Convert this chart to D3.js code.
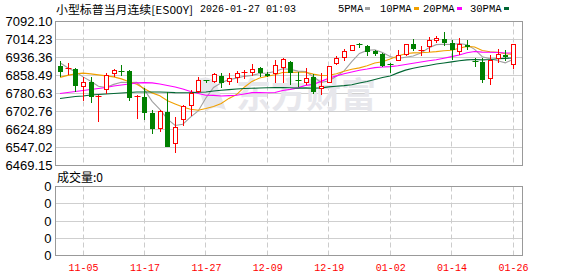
<!DOCTYPE html>
<html>
<head>
<meta charset="utf-8">
<script src="https://cdn.jsdelivr.net/npm/d3@7"></script>
<style>
  body { margin: 0; background: #fff; }
  svg { display: block; }
</style>
</head>
<body>
<svg id="chart" width="578" height="276"></svg>
<script>
// trading days shown (10-31 .. 01-26)
const dates = ["10-31","11-03","11-04","11-05","11-06","11-07","11-10","11-11","11-12","11-13",
  "11-14","11-17","11-18","11-19","11-20","11-21","11-24","11-25","11-26","11-27",
  "11-28","12-01","12-02","12-03","12-04","12-05","12-08","12-09","12-10","12-11",
  "12-12","12-15","12-16","12-17","12-18","12-19","12-22","12-23","12-24","12-26",
  "12-29","12-30","12-31","01-02","01-05","01-06","01-07","01-08","01-09","01-12",
  "01-13","01-14","01-15","01-16","01-19","01-20","01-21","01-22","01-23","01-26"];

const open = [6900.4,6884.7,6886.0,6810.3,6832.0,6765.4,6798.9,6866.9,6877.4,6878.6,
  6767.6,6764.1,6697.0,6629.0,6701.3,6563.7,6665.2,6727.5,6785.9,6835.1,
  6832.0,6856.9,6832.0,6851.2,6865.6,6868.6,6890.4,6865.6,6865.6,6894.8,
  6914.8,6835.1,6827.7,6853.8,6803.3,6827.7,6912.2,6938.3,6965.8,6990.6,
  6987.5,6962.7,6952.7,6906.1,6923.5,6948.3,6996.3,6965.8,6981.9,7009.3,
  7018.0,6999.3,6962.7,6991.9,6920.9,6916.6,6842.5,6929.6,6947.0,6904.8];
const high = [6919.2,6912.2,6890.4,6853.8,6851.2,6774.1,6868.6,6886.0,6904.8,6883.0,
  6774.1,6803.3,6708.7,6708.7,6788.5,6676.9,6730.5,6795.9,6851.2,6839.4,
  6868.6,6871.2,6868.6,6878.6,6883.0,6909.1,6897.4,6875.6,6926.6,6934.0,
  6919.2,6875.6,6893.0,6864.3,6868.6,6900.4,6941.0,6973.2,6991.9,6999.3,
  6991.9,6967.1,6955.7,6912.2,6967.1,6996.3,7016.7,6984.5,7025.4,7031.1,
  7045.5,7013.7,7021.1,7013.7,6934.0,6934.0,6948.3,6973.2,6970.1,6991.9];
const low = [6851.2,6861.2,6788.5,6749.3,6737.9,6657.8,6778.4,6851.2,6856.9,6748.0,
  6669.5,6665.2,6607.2,6614.2,6549.0,6522.7,6639.0,6683.5,6781.5,6825.1,
  6825.1,6805.9,6817.6,6825.1,6842.5,6856.9,6853.8,6851.2,6825.1,6825.1,
  6817.6,6810.3,6817.6,6778.4,6774.1,6825.1,6904.8,6919.2,6962.7,6977.5,
  6941.0,6943.9,6897.4,6871.2,6919.2,6941.0,6962.7,6941.0,6958.4,6999.3,
  6984.5,6926.6,6948.3,6970.1,6894.8,6827.7,6817.6,6912.2,6919.6,6886.0];
const close = [6875.6,6887.4,6810.3,6829.4,6766.7,6767.6,6858.2,6878.6,6874.3,6762.3,
  6769.7,6697.0,6629.0,6701.3,6551.9,6633.4,6723.1,6781.5,6835.1,6832.0,
  6861.2,6827.7,6846.8,6868.6,6869.9,6883.0,6868.6,6856.9,6900.4,6929.6,
  6868.6,6830.7,6846.8,6788.5,6810.3,6897.4,6934.0,6962.7,6988.8,6987.5,
  6962.7,6948.3,6900.4,6903.5,6943.9,6991.9,6973.2,6968.8,7009.3,7016.7,
  6999.3,6967.1,6991.9,6981.9,6917.9,6839.4,6922.0,6948.3,6938.3,6991.9];

// moving averages as drawn
const ma5 = [6913.5,6891.7,6874.3,6852.5,6833.9,6812.3,6806.4,6820.1,6829.1,6828.2,
  6828.6,6796.4,6746.5,6711.9,6669.8,6642.5,6647.8,6678.3,6705.0,6761.0,
  6806.6,6827.5,6840.6,6847.3,6854.9,6859.2,6867.4,6869.4,6875.8,6887.7,
  6884.8,6877.3,6875.3,6852.9,6829.0,6834.7,6855.4,6878.6,6918.6,6954.1,
  6967.2,6970.0,6957.6,6940.5,6931.8,6937.6,6942.6,6956.3,6977.4,6992.0,
  6993.5,6992.3,6996.9,6991.4,6971.6,6939.6,6930.7,6921.9,6913.2,6928.0];
const ma10 = [6850.3,6859.0,6865.6,6868.6,6865.6,6861.2,6856.9,6852.5,6843.8,6831.0,
  6820.4,6801.4,6783.3,6770.5,6749.0,6735.6,6722.1,6712.4,6708.4,6715.4,
  6724.6,6737.6,6759.4,6776.1,6807.9,6832.9,6847.5,6855.0,6861.5,6871.3,
  6872.0,6872.3,6872.3,6864.3,6858.3,6859.8,6866.3,6876.9,6885.7,6891.5,
  6901.0,6912.7,6918.1,6929.6,6942.9,6952.4,6956.3,6956.9,6959.0,6961.9,
  6965.6,6967.4,6976.6,6984.4,6981.8,6966.6,6961.5,6959.4,6952.3,6949.8];
const ma20 = [6780.6,6785.0,6789.3,6793.7,6798.1,6802.4,6806.8,6813.3,6817.7,6822.0,
  6826.4,6827.7,6826.4,6822.0,6815.5,6808.9,6800.2,6789.3,6780.6,6773.2,
  6772.5,6769.5,6771.4,6773.3,6778.5,6784.2,6784.8,6783.7,6785.0,6793.4,
  6798.3,6805.0,6815.9,6820.2,6833.1,6846.3,6856.9,6865.9,6873.6,6881.4,
  6886.5,6892.5,6895.2,6896.9,6900.6,6906.1,6911.3,6916.9,6922.3,6926.7,
  6933.2,6940.1,6947.3,6957.0,6962.4,6959.5,6958.9,6958.2,6955.6,6955.8];
const ma30 = [6758.8,6763.2,6767.6,6769.7,6774.1,6776.3,6778.5,6780.6,6782.8,6785.0,
  6787.2,6787.2,6787.2,6787.2,6785.9,6784.5,6784.1,6784.5,6785.9,6787.2,
  6791.5,6794.6,6797.2,6800.2,6802.0,6803.3,6804.6,6805.5,6805.9,6805.9,
  6805.7,6803.8,6805.0,6803.6,6805.1,6809.4,6812.0,6814.7,6818.6,6826.1,
  6832.5,6840.9,6849.9,6856.7,6869.8,6881.7,6890.0,6896.3,6902.1,6908.2,
  6912.8,6917.5,6922.3,6926.1,6927.7,6926.3,6928.0,6931.1,6932.4,6934.4];

const priceLabels = ["7092.10","7014.23","6936.36","6858.49","6780.63","6702.76","6624.89","6547.02","6469.15"];
const volumeLabels = ["0","0","0","0","0"];
const tickDates = ["11-05","11-17","11-27","12-09","12-19","01-02","01-14","01-26"];
const maNames = ["5PMA","10PMA","20PMA","30PMA"];

const svg = d3.select("#chart");
const left = 55.5, right = 522.5;
const priceTop = 21.5, priceBottom = 165.5;
const volTop = 186.5, volBottom = 255.5;

const red = "#ff0000";
const green = "#008000";
const maColors = ["#a0a0a0", "#f0a000", "#ff00ff", "#006633"];
const monoFont = "'Liberation Mono','DejaVu Sans Mono',monospace";
const cjkFont = "'Noto Sans CJK SC','Noto Sans',sans-serif";

const x = d3.scaleLinear().domain([0, dates.length - 1]).range([60, 513]);
const y = d3.scaleLinear()
    .domain([+priceLabels[priceLabels.length - 1], +priceLabels[0]])
    .range([priceBottom, priceTop]);
const volY = d3.scaleLinear().domain([0, volumeLabels.length - 1]).range([volBottom, volTop]);

const tickIdx = tickDates.map(t => dates.indexOf(t));
const crisp = v => Math.round(v - 0.5) + 0.5;

// title line
svg.append("text")
    .attr("x", 56)
    .attr("y", 14)
    .attr("font-family", cjkFont)
    .attr("font-size", "11px")
    .attr("fill", "#000")
    .attr("textLength", 137)
    .attr("lengthAdjust", "spacingAndGlyphs")
    .text("小型标普当月连续[ES00Y]");

svg.append("text")
    .attr("x", 200)
    .attr("y", 12)
    .attr("font-family", monoFont)
    .attr("font-size", "10px")
    .attr("fill", "#000")
    .text("2026-01-27 01:03");

const legendX = [338, 380, 423, 470];
maNames.forEach((name, i) => {
    const t = svg.append("text")
        .attr("x", legendX[i])
        .attr("y", 12)
        .attr("font-family", monoFont)
        .attr("font-size", "10.5px")
        .attr("fill", "#000")
        .text(name);
    const w = t.node().getComputedTextLength();
    svg.append("rect")
        .attr("x", Math.round(legendX[i] + w + 2))
        .attr("y", 7)
        .attr("width", 5)
        .attr("height", 3)
        .attr("fill", maColors[i]);
});

// grids
const grid = svg.append("g");
priceLabels.slice(1, -1).forEach(l => {
    grid.append("line")
        .attr("x1", left).attr("x2", right)
        .attr("y1", crisp(y(+l))).attr("y2", crisp(y(+l)))
        .attr("stroke", "#cfcfcf");
});
d3.range(1, volumeLabels.length - 1).forEach(k => {
    grid.append("line")
        .attr("x1", left).attr("x2", right)
        .attr("y1", crisp(volY(k))).attr("y2", crisp(volY(k)))
        .attr("stroke", "#cfcfcf");
});
tickIdx.forEach(i => {
    const vx = crisp(x(i));
    [[priceTop, priceBottom], [volTop, volBottom]].forEach(([a, b]) => {
        grid.append("line")
            .attr("x1", vx).attr("x2", vx)
            .attr("y1", a).attr("y2", b)
            .attr("stroke", "#cccccc")
            .attr("stroke-dasharray", "5,3");
    });
});

// watermark (logo mark + name)
const wm = svg.append("g").attr("fill", "#e7e7ec");
wm.append("path")
    .attr("d", "M196,80 Q206,74 216,82 L226,110 Q214,104 206,112 Z");
wm.append("text")
    .attr("x", 236)
    .attr("y", 108)
    .attr("font-family", cjkFont)
    .attr("font-size", "35px")
    .attr("font-weight", "bold")
    .text("东方财富");

// moving averages
svg.append("defs").append("clipPath").attr("id", "plot")
    .append("rect")
    .attr("x", left).attr("y", priceTop)
    .attr("width", right - left).attr("height", priceBottom - priceTop);

const line = d3.line().x((d, i) => x(i)).y(d => y(d));
const maG = svg.append("g").attr("clip-path", "url(#plot)");
[ma5, ma10, ma20, ma30].forEach((series, k) => {
    maG.append("path")
        .datum(series)
        .attr("d", line)
        .attr("fill", "none")
        .attr("stroke", maColors[k])
        .attr("stroke-width", 1.1);
});

// candles
const candleG = svg.append("g");
dates.forEach((d, i) => {
    const cx = Math.round(x(i)) + 0.5;
    const up = close[i] >= open[i];
    const col = up ? red : green;
    const top = y(Math.max(open[i], close[i]));
    const bot = y(Math.min(open[i], close[i]));

    candleG.append("line")
        .attr("x1", cx).attr("x2", cx)
        .attr("y1", Math.round(y(high[i]))).attr("y2", Math.round(y(low[i])))
        .attr("stroke", col);

    if (bot - top < 1.5) {
        candleG.append("line")
            .attr("x1", cx - 3).attr("x2", cx + 3)
            .attr("y1", crisp(top)).attr("y2", crisp(top))
            .attr("stroke", col);
    } else if (up) {
        candleG.append("rect")
            .attr("x", cx - 2)
            .attr("y", crisp(top))
            .attr("width", 4)
            .attr("height", Math.round(bot - top))
            .attr("fill", "#fff")
            .attr("stroke", col);
    } else {
        candleG.append("rect")
            .attr("x", cx - 2.5)
            .attr("y", Math.round(top))
            .attr("width", 5)
            .attr("height", Math.round(bot - top))
            .attr("fill", col);
    }
});

// frames
[[priceTop, priceBottom], [volTop, volBottom]].forEach(([a, b]) => {
    svg.append("rect")
        .attr("x", left).attr("y", a)
        .attr("width", right - left).attr("height", b - a)
        .attr("fill", "none")
        .attr("stroke", "#999");
});

// axes
const yAxis = svg.append("g")
    .attr("transform", `translate(${left},0)`)
    .call(d3.axisLeft(y)
        .tickValues(priceLabels.map(Number))
        .tickFormat((d, i) => priceLabels[i])
        .tickSize(0)
        .tickPadding(3));
yAxis.select(".domain").remove();
yAxis.selectAll("text")
    .attr("font-family", "'Liberation Sans',Arial,sans-serif")
    .attr("font-size", "13px")
    .attr("fill", "#000");

const vAxis = svg.append("g")
    .attr("transform", `translate(${left},0)`)
    .call(d3.axisLeft(volY)
        .tickValues(d3.range(volumeLabels.length))
        .tickFormat(i => volumeLabels[i])
        .tickSize(0)
        .tickPadding(4));
vAxis.select(".domain").remove();
vAxis.selectAll("text")
    .attr("font-family", "'Liberation Sans',Arial,sans-serif")
    .attr("font-size", "13px")
    .attr("fill", "#000");

const xAxis = svg.append("g")
    .attr("transform", `translate(0,${volBottom})`)
    .call(d3.axisBottom(x)
        .tickValues(tickIdx)
        .tickFormat(i => dates[i])
        .tickSize(0)
        .tickPadding(8));
xAxis.select(".domain").remove();
xAxis.selectAll("text")
    .attr("font-family", monoFont)
    .attr("font-size", "10px")
    .attr("fill", red);

svg.append("text")
    .attr("x", 57)
    .attr("y", 182)
    .attr("font-family", cjkFont)
    .attr("font-size", "12px")
    .attr("fill", "#000")
    .text("成交量:0");
</script>
</body>
</html>
